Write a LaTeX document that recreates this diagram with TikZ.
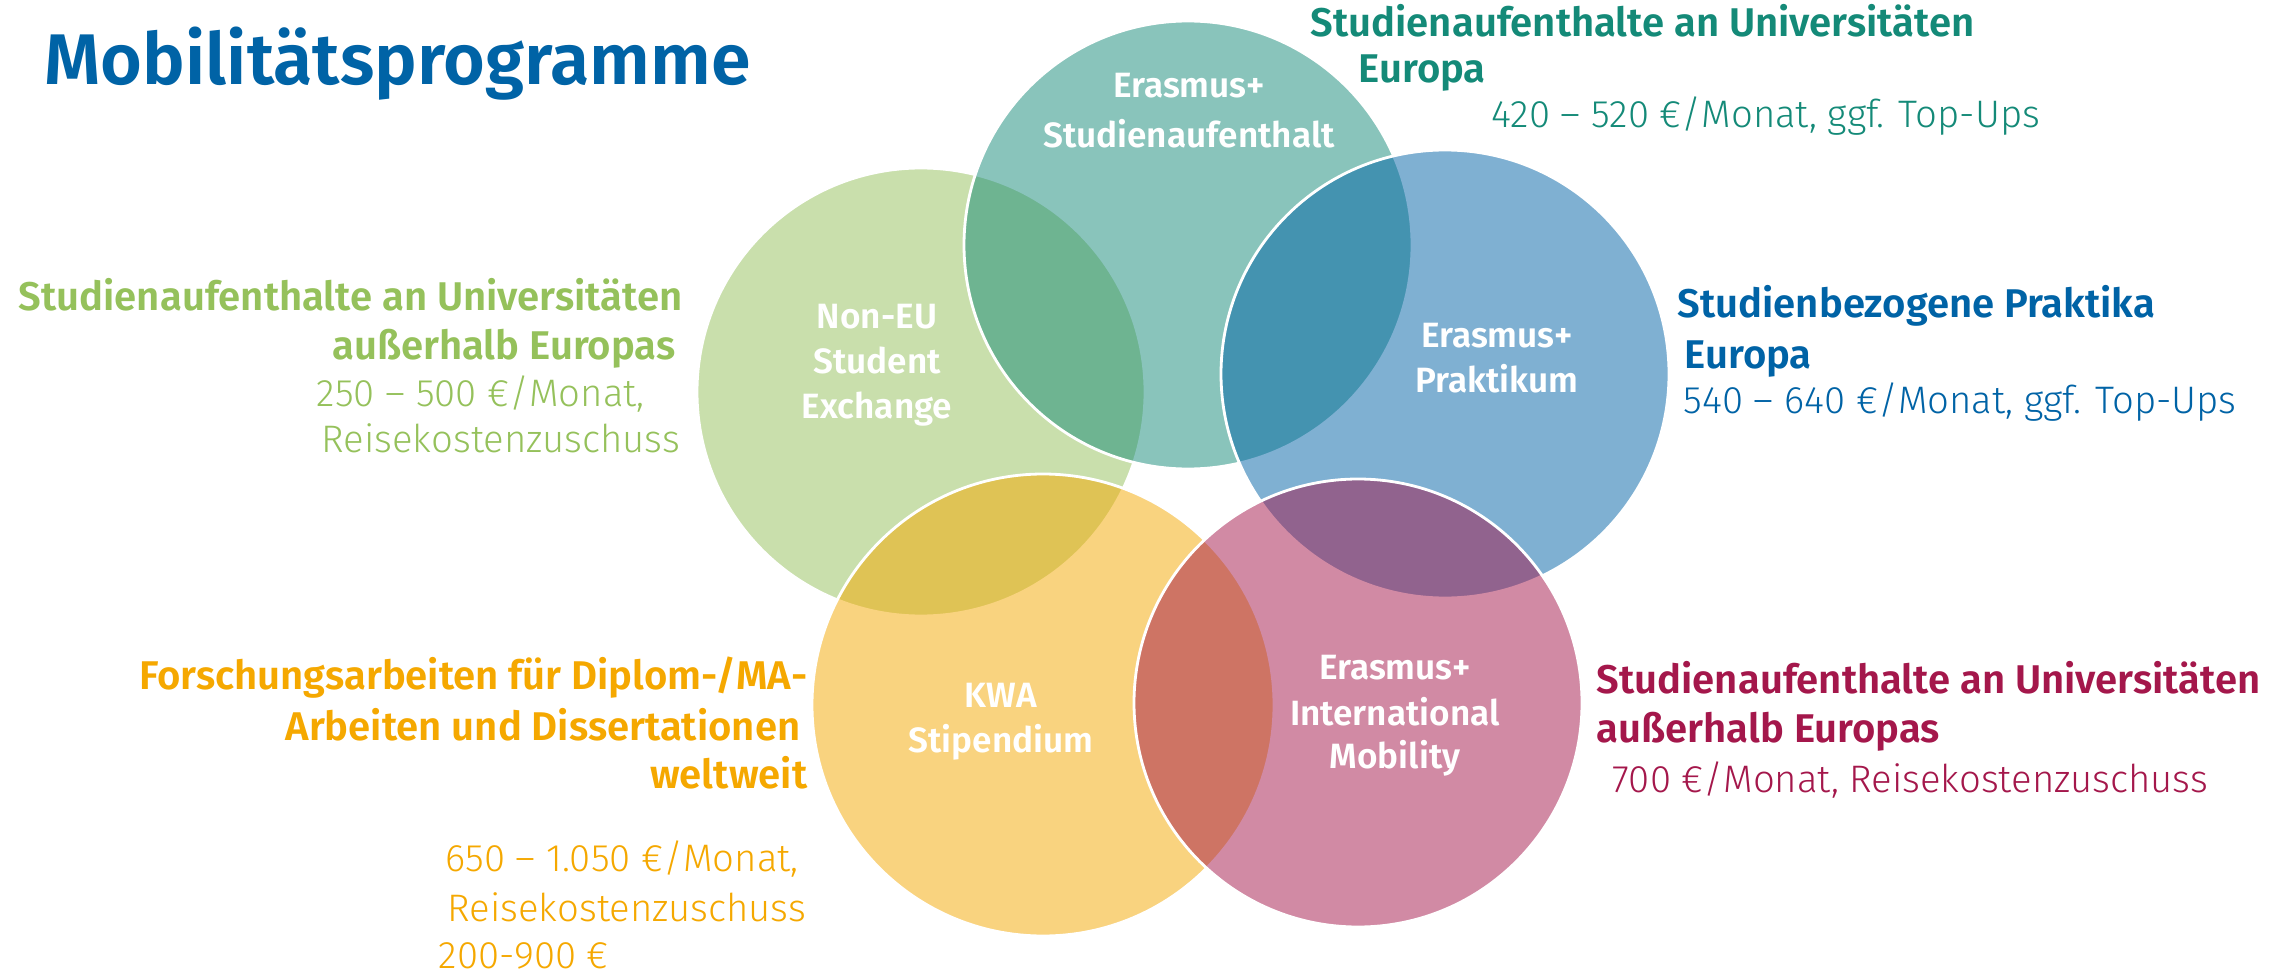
\documentclass[tikz,border=0pt]{standalone}
\usepackage{fontspec}
\IfFontExistsTF{Fira Sans SemiBold}
	{\setmainfont{Fira Sans}[BoldFont={Fira Sans SemiBold}]}
	{\setmainfont{Fira Sans}}
\IfFontExistsTF{Fira Sans Light}
	{\newfontfamily\lightfont{Fira Sans Light}}
	{\newfontfamily\lightfont{Fira Sans}}
\definecolor{mpblue}{RGB}{0,99,166}
\definecolor{mpteal}{RGB}{20,138,120}
\definecolor{mpgreen}{RGB}{149,193,91}
\definecolor{mpyellow}{RGB}{245,168,0}
\definecolor{mppink}{RGB}{164,23,75}
\tikzset{
	ring/.style={fill=#1, fill opacity=0.5, draw=white, line width=0.8pt},
	head/.style={text=#1, font=\bfseries\fontsize{11.4}{13}\selectfont, inner sep=0pt},
	val/.style={text=#1, font=\lightfont\fontsize{10.9}{13}\selectfont, inner sep=0pt},
	inlbl/.style={text=white, font=\bfseries\fontsize{10}{12}\selectfont, inner sep=0pt, anchor=base}
}

\begin{document}
\begin{tikzpicture}
		%%%%% START %%%%%
		
		\path[use as bounding box, fill=white] (0, 0) rectangle (22.84, 9.75);
		
		% the five rings
		\draw[ring=mpgreen] (9.21, 5.83) circle (2.24);
		\draw[ring=mpteal] (11.88, 7.30) circle (2.24);
		\draw[ring=mpblue] (14.45, 6.01) circle (2.24);
		\draw[ring=mpyellow] (10.43, 2.70) circle (2.31);
		\draw[ring=mppink] (13.58, 2.72) circle (2.24);
		
		\node[inlbl] (tealA) at (11.89, 8.77) {Erasmus+};
		\node[inlbl] (tealB) at (11.89, 8.27) {Studienaufenthalt};
		\node[inlbl] (greenA) at (8.77, 6.47) {Non-EU};
		\node[inlbl] (greenB) at (8.77, 6.02) {Student};
		\node[inlbl] (greenC) at (8.77, 5.57) {Exchange};
		\node[inlbl] (blueA) at (14.97, 6.27) {Erasmus+};
		\node[inlbl] (blueB) at (14.97, 5.82) {Praktikum};
		\node[inlbl] (yellowA) at (10.01, 2.68) {KWA};
		\node[inlbl] (yellowB) at (10.01, 2.23) {Stipendium};
		\node[inlbl] (pinkA) at (13.95, 2.96) {Erasmus+};
		\node[inlbl] (pinkB) at (13.95, 2.50) {International};
		\node[inlbl] (pinkC) at (13.95, 2.07) {Mobility};
		
		\node[head=mpblue, font=\bfseries\fontsize{20.4}{24}\selectfont, anchor=base west] (title) at (0.44, 8.90) {Mobilitätsprogramme};
		
		% teal
		\node[head=mpteal, anchor=base west] (tealH1) at (13.10, 9.38) {Studienaufenthalte an Universitäten};
		\node[head=mpteal, anchor=base west] (tealH2) at (13.58, 8.92) {Europa};
		\node[val=mpteal, anchor=base west] (tealV1) at (14.91, 8.47) {420 – 520 €/Monat, ggf. Top-Ups};
		
		% green
		\node[head=mpgreen, anchor=base east] (greenH1) at (6.83, 6.65) {Studienaufenthalte an Universitäten};
		\node[head=mpgreen, anchor=base east] (greenH2) at (6.76, 6.16) {außerhalb Europas};
		\node[val=mpgreen, anchor=base west] (greenV1) at (3.16, 5.69) {250 – 500 €/Monat,};
		\node[val=mpgreen, anchor=base west] (greenV2) at (3.21, 5.23) {Reisekostenzuschuss};
		
		% blue
		\node[head=mpblue, anchor=base west] (blueH1) at (16.77, 6.57) {Studienbezogene Praktika};
		\node[head=mpblue, anchor=base west] (blueH2) at (16.84, 6.07) {Europa};
		\node[val=mpblue, anchor=base west] (blueV1) at (16.83, 5.62) {540 – 640 €/Monat, ggf. Top-Ups};
		
		% yellow
		\node[head=mpyellow, anchor=base east] (yellowH1) at (8.08, 2.86) {Forschungsarbeiten für Diplom-/MA-};
		\node[head=mpyellow, anchor=base east] (yellowH2) at (8.01, 2.35) {Arbeiten und Dissertationen};
		\node[head=mpyellow, anchor=base east] (yellowH3) at (8.08, 1.87) {weltweit};
		\node[val=mpyellow, anchor=base west] (yellowV1) at (4.45, 1.04) {650 – 1.050 €/Monat,};
		\node[val=mpyellow, anchor=base west] (yellowV2) at (4.47, 0.54) {Reisekostenzuschuss};
		\node[val=mpyellow, anchor=base west] (yellowV3) at (4.38, 0.07) {200-900 €};
		
		% pink
		\node[head=mppink, anchor=base west] (pinkH1) at (15.96, 2.82) {Studienaufenthalte an Universitäten};
		\node[head=mppink, anchor=base west] (pinkH2) at (15.96, 2.33) {außerhalb Europas};
		\node[val=mppink, anchor=base west] (pinkV1) at (16.12, 1.83) {700 €/Monat, Reisekostenzuschuss};
		
		%%%%% END %%%%%
\end{tikzpicture}
\end{document}
